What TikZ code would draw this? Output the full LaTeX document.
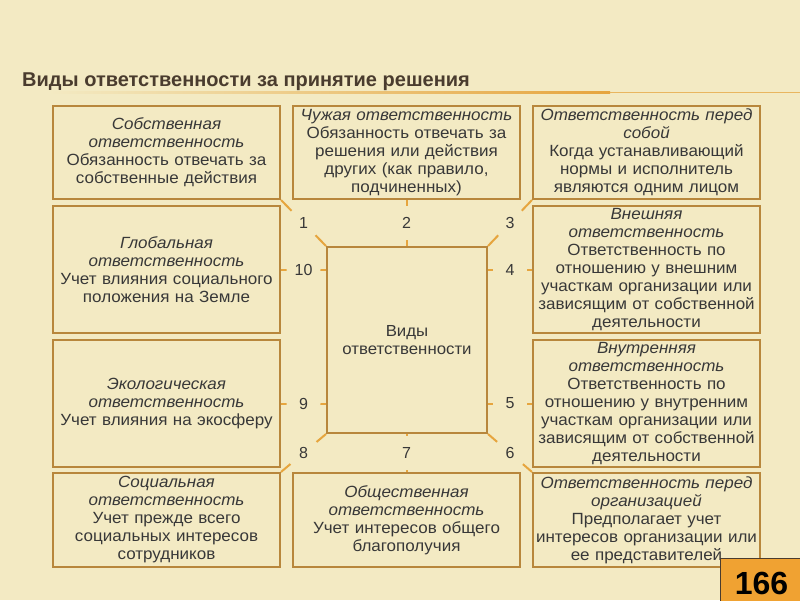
\documentclass[tikz,border=0pt]{standalone}
\usepackage{fontspec}
\setmainfont{Liberation Sans}
\newfontfamily\boxfont[FakeStretch=1.05]{Liberation Sans}
\definecolor{bgpaper}{HTML}{F3EAC3}
\definecolor{frame}{HTML}{B8873C}
\definecolor{wire}{HTML}{E6A53E}
\definecolor{ink}{HTML}{383838}
\definecolor{headink}{HTML}{4A3C2E}
\definecolor{badge}{HTML}{F0A232}
\begin{document}
\begin{tikzpicture}[x=1pt,y=-1pt,
  card/.style={draw=frame, line width=2pt, fill=bgpaper, minimum width=227pt, minimum height=#1,
    inner sep=0pt, text width=225pt, align=center, text=ink, font=\boxfont\fontsize{16.2}{18}\selectfont},
  hub/.style={draw=frame, line width=2pt, fill=bgpaper, minimum width=160pt, minimum height=186pt,
    align=center, text=ink, font=\boxfont\fontsize{16}{18.5}\selectfont},
  link/.style={draw=wire, line width=2pt},
  num/.style={circle, fill=bgpaper, minimum size=34pt, inner sep=0pt, text=ink, font=\fontsize{16}{18}\selectfont}]
\path[use as bounding box] (0,0) rectangle (800,600);
\fill[bgpaper] (0,0) rectangle (800,600);

% title
\node[anchor=base west, inner sep=0pt, text=headink, font=\bfseries\fontsize{20}{24}\selectfont] (title) at (22,86) {Виды ответственности за принятие решения};
\shade[left color=bgpaper, right color=wire] (48,91) rectangle (610,93.5);
\fill[wire!75!bgpaper] (610,91.5) rectangle (800,93);

\node[card=93pt] (b1) at (166.5,152.5) {\textit{Собственная}\\\textit{ответственность}\\Обязанность отвечать за\\собственные действия};
\node[card=93pt] (b2) at (406.5,152.5) {\textit{Чужая ответственность}\\Обязанность отвечать за\\решения или действия\\других (как правило,\\подчиненных)};
\node[card=93pt] (b3) at (646.5,152.5) {\textit{Ответственность перед}\\\textit{собой}\\Когда устанавливающий\\нормы и исполнитель\\являются одним лицом};
\node[card=127pt] (b10) at (166.5,269.5) {\textit{Глобальная}\\\textit{ответственность}\\Учет влияния социального\\положения на Земле};
\node[card=127pt] (b4) at (646.5,269.5) {\textit{Внешняя}\\\textit{ответственность}\\Ответственность по\\отношению у внешним\\участкам организации или\\зависящим от собственной\\деятельности};
\node[card=127pt] (b9) at (166.5,403.5) {\textit{Экологическая}\\\textit{ответственность}\\Учет влияния на экосферу};
\node[card=127pt] (b5) at (646.5,403.5) {\textit{Внутренняя}\\\textit{ответственность}\\Ответственность по\\отношению у внутренним\\участкам организации или\\зависящим от собственной\\деятельности};
\node[card=94pt] (b8) at (166.5,520) {\textit{Социальная}\\\textit{ответственность}\\Учет прежде всего\\социальных интересов\\сотрудников};
\node[card=94pt] (b7) at (406.5,520) {\textit{Общественная}\\\textit{ответственность}\\Учет интересов общего\\благополучия};
\node[card=94pt] (b6) at (646.5,520) {\textit{Ответственность перед}\\\textit{организацией}\\Предполагает учет\\интересов организации или\\ее представителей};

\node[hub] (c) at (407,340) {Виды\\ответственности};

\path[link] (b1.south east) -- node[num] {1} (c.north west);
\path[link] (b2.south) -- node[num] {2} (b2.south |- c.north);
\path[link] (b3.south west) -- node[num] {3} (c.north east);
\path[link] (b4.west) -- node[num] {4} (b4.west -| c.east);
\path[link] (b5.west) -- node[num] {5} (b5.west -| c.east);
\path[link] (b6.north west) -- node[num] {6} (c.south east);
\path[link] (b7.north) -- node[num] {7} (b7.north |- c.south);
\path[link] (b8.north east) -- node[num] {8} (c.south west);
\path[link] (b9.east) -- node[num] {9} (b9.east -| c.west);
\path[link] (b10.east) -- node[num] {10} (b10.east -| c.west);

% page number
\node[draw=headink, line width=1pt, fill=badge, anchor=north west, minimum width=90pt, minimum height=50pt,
  font=\bfseries\fontsize{32}{36}\selectfont, text=black] (page) at (720,558) {\hspace*{-8pt}166};
\end{tikzpicture}
\end{document}
